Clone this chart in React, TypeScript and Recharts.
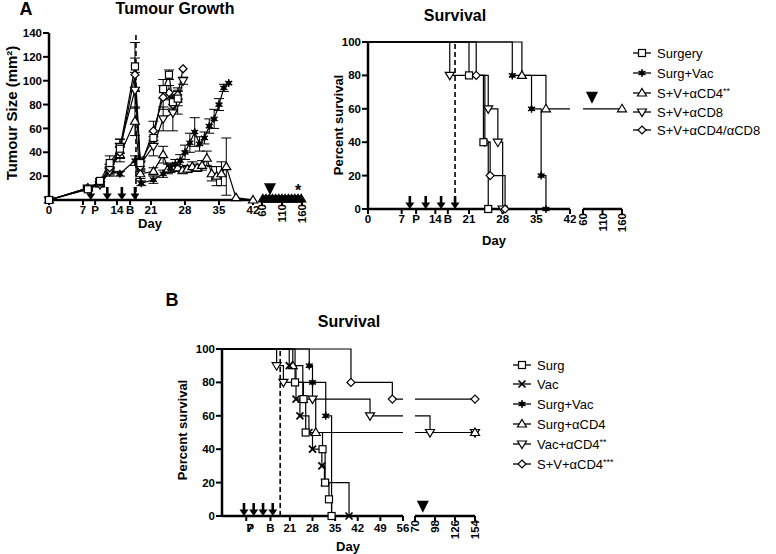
import React from "react";
import {
  ErrorBar,
  Line,
  LineChart,
  ReferenceDot,
  ReferenceLine,
  XAxis,
  YAxis,
} from "recharts";

// Panel A (left): tumour growth, mean ± SEM
const tgSurgDay = [0, 8, 10.5, 12.5, 14.6, 17.7, 18.8, 21.5, 23.5, 24.7, 25.5, 26.5];
const tgSurgSize = [0, 9, 16, 31, 43, 112, 31, 52, 93, 105, 82, 85];
const tgSurgErr = [0, 1, 2, 6, 8, 20, 5, 5, 8, 4, 5, 6];

const tgVacDay = [0, 8, 10.5, 12.5, 14.6, 17.7, 19, 21.5, 23.5, 25, 26, 27, 28, 29, 30, 31, 32, 33, 34, 35, 36, 37];
const tgVacSize = [0, 9, 13, 24, 22, 33, 14, 17, 22, 27, 30, 33, 40, 48, 57, 47, 52, 62, 68, 80, 94, 98];
const tgVacErr = [0, 1, 2, 3, 2, 4, 2, 3, 3, 4, 4, 5, 6, 8, 12, 6, 5, 6, 8, 5, 3, 0];

const tgCd4Day = [0, 8, 10.5, 12.5, 14.6, 17.7, 18.8, 21.5, 23.5, 24.5, 25.5, 26.5, 27.5, 28.5, 29.5, 30.5, 31.5, 32.5, 33.5, 34.5, 35.5, 36.5, 38.5, 42];
const tgCd4Size = [0, 10, 14, 26, 38, 66, 22, 24, 38, 26, 27, 27, 25, 26, 28, 27, 29, 35, 22, 20, 22, 28, 2, 0];
const tgCd4Err = [0, 1, 2, 4, 6, 12, 4, 3, 7, 4, 3, 3, 3, 3, 4, 3, 4, 6, 6, 8, 10, 24, 0, 0];
const tgCd4LateDay = [62, 70, 78, 86, 94, 102, 110, 118, 126, 134, 142, 150, 158];
const tgCd4LateSize = [1, 1, 1, 1, 1, 1, 1, 1, 1, 1, 1, 1, 1];

const tgCd8Day = [0, 8, 10.5, 12.5, 14.6, 17.7, 18.8, 21.5, 23.5, 25.5, 26.5, 27.6];
const tgCd8Size = [0, 10, 13, 24, 45, 92, 30, 45, 68, 73, 82, 100];
const tgCd8Err = [0, 1, 2, 4, 6, 15, 5, 8, 10, 15, 10, 3];

const tgDualDay = [0, 8, 10.5, 12.5, 14.6, 17.7, 18.8, 21.5, 23.5, 24.7, 25.5, 26.5, 27.6];
const tgDualSize = [0, 10, 15, 27, 40, 105, 28, 58, 86, 90, 80, 88, 110];
const tgDualErr = [0, 1, 2, 3, 5, 14, 4, 8, 10, 6, 6, 6, 0];

const tgTicks = [0, 7, 9.5, 14, 16.7, 21, 28, 35, 42];
const tgArrows = [8.6, 12, 15, 17.7];

// Panel A (right): survival
const sASurgDay = [0, 21, 24, 25];
const sASurgPct = [100, 80, 40, 0];
const sAVacDay = [0, 30, 34, 36, 37];
const sAVacPct = [100, 80, 60, 20, 0];
const sACd4Day = [0, 32, 37, 42];
const sACd4Pct = [100, 80, 60, 60];
const sACd4LateDay = [60, 160];
const sACd4LatePct = [60, 60];
const sACd8Day = [0, 17, 25, 27, 28];
const sACd8Pct = [100, 80, 60, 40, 0];
const sADualDay = [0, 22.5, 24.3, 25.4, 28.5];
const sADualPct = [100, 80, 40, 20, 0];
const sATicks = [0, 7, 10, 14, 16.6, 21, 28, 35, 42];
const sAArrows = [8.7, 12, 15.2, 18.1];

// Panel B: survival
const sBSurgDay = [0, 22.6, 25.2, 25.9, 31.1, 31.9, 33.1, 33.9];
const sBSurgPct = [100, 80, 70, 50, 40, 20, 10, 0];
const sBVacDay = [0, 20.8, 22.9, 24.1, 26.9, 28, 30.9, 31.7, 39.3];
const sBVacPct = [100, 90, 70, 60, 50, 40, 30, 20, 0];
const sBSvDay = [0, 27, 28, 32.1, 33.9];
const sBSvPct = [100, 90, 80, 60, 0];
const sBSCd4Day = [0, 21.9, 25, 29, 56];
const sBSCd4Pct = [100, 90, 70, 50, 50];
const sBSCd4LateDay = [70, 154];
const sBSCd4LatePct = [50, 50];
const sBVCd4Day = [0, 16.9, 19, 28, 45.8, 56];
const sBVCd4Pct = [100, 90, 80, 70, 60, 60];
const sBVCd4LateDay = [70, 91, 154];
const sBVCd4LatePct = [60, 50, 50];
const sBSvCd4Day = [0, 39.9, 52.7, 56];
const sBSvCd4Pct = [100, 80, 70, 70];
const sBSvCd4LateDay = [70, 154];
const sBSvCd4LatePct = [70, 70];
const sBTicks = [7.5, 15, 21, 28, 35, 42, 49, 56];
const sBArrows = [6.8, 9.8, 12.7, 15.7];

const legendA = ["Surgery", "Surg+Vac", "S+V+αCD4**", "S+V+αCD8", "S+V+αCD4/αCD8"];
const legendB = ["Surg", "Vac", "Surg+Vac", "Surg+αCD4", "Vac+αCD4**", "S+V+αCD4***"];

const FONT = '"Liberation Sans", Arial, Helvetica, sans-serif';
const tickStyle = { fontSize: 11.5, fontWeight: 700, fill: "#000", fontFamily: FONT };
const axisLine = { stroke: "#000", strokeWidth: 2.5 };
const tickLine = { stroke: "#000", strokeWidth: 2 };

type Shape = "square" | "star" | "triUp" | "triDown" | "diamond" | "cross";

const pts = (xs: number[], ys: number[], es?: number[]) =>
  xs.map((x, i) => ({ x, y: ys[i], e: es ? es[i] : 0 }));

function Marker({ shape, cx, cy, fill = "#fff" }: { shape: Shape; cx: number; cy: number; fill?: string }) {
  const st = { fill, stroke: "#000", strokeWidth: 1.2 };
  const s = 4;
  if (shape === "square")
    return <rect x={cx - 3.5} y={cy - 3.5} width={7} height={7} {...st} />;
  if (shape === "triUp")
    return <polygon points={`${cx},${cy - s - 0.5} ${cx + s + 0.5},${cy + s - 1} ${cx - s - 0.5},${cy + s - 1}`} {...st} />;
  if (shape === "triDown")
    return <polygon points={`${cx - s - 0.5},${cy - s + 1} ${cx + s + 0.5},${cy - s + 1} ${cx},${cy + s + 0.5}`} {...st} />;
  if (shape === "diamond")
    return <polygon points={`${cx},${cy - s} ${cx + s},${cy} ${cx},${cy + s} ${cx - s},${cy}`} {...st} />;
  if (shape === "cross")
    return (
      <g stroke="#000" strokeWidth={1.7}>
        <line x1={cx - 3.5} y1={cy - 3.5} x2={cx + 3.5} y2={cy + 3.5} />
        <line x1={cx - 3.5} y1={cy + 3.5} x2={cx + 3.5} y2={cy - 3.5} />
      </g>
    );
  return (
    <g stroke="#000" strokeWidth={1.4}>
      <line x1={cx} y1={cy - 4} x2={cx} y2={cy + 4} />
      <line x1={cx - 3.5} y1={cy - 2} x2={cx + 3.5} y2={cy + 2} />
      <line x1={cx - 3.5} y1={cy + 2} x2={cx + 3.5} y2={cy - 2} />
      <circle cx={cx} cy={cy} r={1.8} fill="#000" />
    </g>
  );
}

function dots(id: string, shape: Shape, keep: (i: number, x: number) => boolean, fill?: string) {
  return (p: any) => {
    const k = `${id}-${p.index}`;
    if (p.cx == null || p.cy == null || !keep(p.index, p.payload?.x)) return <g key={k} />;
    return (
      <g key={k}>
        <Marker shape={shape} cx={p.cx} cy={p.cy} fill={fill} />
      </g>
    );
  };
}

const all = () => true;
const before = (edge: number) => (i: number, x: number) => i > 0 && x < edge;
const notFirst = (i: number) => i > 0;

const arrowShape = (p: any) => (
  <g>
    <rect x={p.cx - 1.3} y={p.cy - 13} width={2.6} height={8} fill="#000" />
    <polygon points={`${p.cx - 4.5},${p.cy - 6.5} ${p.cx + 4.5},${p.cy - 6.5} ${p.cx},${p.cy}`} fill="#000" />
  </g>
);
const bigTri = (p: any) => (
  <polygon points={`${p.cx - 6},${p.cy - 12} ${p.cx + 6},${p.cy - 12} ${p.cx},${p.cy}`} fill="#000" />
);

function RotTick(props: any) {
  const { x, y, payload } = props;
  return (
    <text transform={`translate(${x + 4},${y - 2}) rotate(-90)`} textAnchor="end" style={tickStyle}>
      {payload.value}
    </text>
  );
}

function BTick(props: any) {
  const { x, y, payload } = props;
  const v = payload.value;
  if (v === 7.5)
    return (
      <text x={x + 1} y={y + 10} textAnchor="middle" style={{ ...tickStyle, letterSpacing: -6.5 }}>
        7P
      </text>
    );
  const lab = v === 15 ? "B" : String(v);
  return (
    <text x={x} y={y + 10} textAnchor="middle" style={tickStyle}>{lab}</text>
  );
}

function Txt(props: { x: number; y: number; size: number; bold?: boolean; rot?: boolean; children: React.ReactNode }) {
  return (
    <div
      style={{
        position: "absolute",
        left: props.x,
        top: props.y,
        transform: `translate(-50%, -50%)${props.rot ? " rotate(-90deg)" : ""}`,
        fontSize: props.size,
        fontWeight: props.bold ? 700 : 400,
        whiteSpace: "nowrap",
        lineHeight: 1,
      }}
    >
      {props.children}
    </div>
  );
}

function Legend({ items, shapes, x, ys }: { items: string[]; shapes: Shape[]; x: number; ys: number[] }) {
  return (
    <>
      {items.map((t, i) => {
        const stars = t.match(/\*+$/)?.[0] ?? "";
        const base = stars ? t.slice(0, -stars.length) : t;
        return (
          <div key={t} style={{ position: "absolute", left: x - 9, top: ys[i] - 8, height: 16, display: "flex", alignItems: "center", fontSize: 13 }}>
            <svg width={18} height={12} style={{ marginRight: 6 }}>
              <line x1={0} y1={6} x2={18} y2={6} stroke="#000" strokeWidth={1.3} />
              <Marker shape={shapes[i]} cx={9} cy={6} />
            </svg>
            <span>
              {base}
              {stars && <span style={{ fontSize: 9, position: "relative", top: -4 }}>{stars}</span>}
            </span>
          </div>
        );
      })}
    </>
  );
}

const pos = (left: number, top: number): React.CSSProperties => ({ position: "absolute", left, top });

const step = (data: any[], id: string, shape: Shape, keep: (i: number, x: number) => boolean) => (
  <Line
    key={id}
    data={data}
    dataKey="y"
    type="stepAfter"
    stroke="#000"
    strokeWidth={1.2}
    dot={dots(id, shape, keep)}
    activeDot={false}
    isAnimationActive={false}
  />
);

const growth = (data: any[], id: string, shape: Shape) => (
  <Line
    key={id}
    data={data}
    dataKey="y"
    type="linear"
    stroke="#000"
    strokeWidth={1.2}
    dot={dots(id, shape, all)}
    activeDot={false}
    isAnimationActive={false}
  >
    <ErrorBar dataKey="e" width={5} stroke="#000" strokeWidth={1} direction="y" />
  </Line>
);

export default function App() {
  const tgFmt = (v: number) => (v === 9.5 ? "P" : v === 16.7 ? "B" : String(v));
  const saFmt = (v: number) => (v === 10 ? "P" : v === 16.6 ? "B" : String(v));

  return (
    <div style={{ position: "absolute", left: 0, top: 0, width: 776, height: 554, background: "#fff", fontFamily: FONT, color: "#000", overflow: "hidden" }}>
      {/* A: tumour growth */}
      <div style={pos(0, 0)}>
        <LineChart width={262} height={240} margin={{ top: 33, right: 9, left: 9, bottom: 10 }}>
          <XAxis type="number" dataKey="x" domain={[0, 42]} ticks={tgTicks} interval={0} tickFormatter={tgFmt}
            tick={tickStyle} axisLine={axisLine} tickLine={tickLine} tickSize={5} tickMargin={1} height={30} />
          <YAxis type="number" domain={[0, 140]} ticks={[20, 40, 60, 80, 100, 120, 140]} interval={0}
            tick={tickStyle} axisLine={axisLine} tickLine={tickLine} tickSize={6} tickMargin={1} width={40} />
          <ReferenceLine x={17.9} stroke="#000" strokeWidth={1.6} strokeDasharray="5 3" />
          {growth(pts(tgCd4Day, tgCd4Size, tgCd4Err), "tg-cd4", "triUp")}
          {growth(pts(tgVacDay, tgVacSize, tgVacErr), "tg-vac", "star")}
          {growth(pts(tgCd8Day, tgCd8Size, tgCd8Err), "tg-cd8", "triDown")}
          {growth(pts(tgDualDay, tgDualSize, tgDualErr), "tg-dual", "diamond")}
          {growth(pts(tgSurgDay, tgSurgSize, tgSurgErr), "tg-surg", "square")}
          {tgArrows.map((d) => (
            <ReferenceDot key={`ta${d}`} x={d} y={0} shape={arrowShape} ifOverflow="visible" />
          ))}
        </LineChart>
      </div>
      <div style={pos(255, 0)}>
        <LineChart width={55} height={240} margin={{ top: 33, right: 8, left: 7, bottom: 10 }}>
          <XAxis type="number" dataKey="x" domain={[60, 160]} ticks={[60, 110, 160]} interval={0}
            tick={<RotTick />} axisLine={axisLine} tickLine={tickLine} tickSize={5} tickMargin={1} height={30} />
          <YAxis hide type="number" domain={[0, 140]} />
          <Line data={pts(tgCd4LateDay, tgCd4LateSize)} dataKey="y" type="linear" stroke="#000" strokeWidth={7}
            dot={dots("tg-late", "triUp", all, "#000")} activeDot={false} isAnimationActive={false} />
          <ReferenceDot x={80} y={4} shape={bigTri} ifOverflow="visible" />
        </LineChart>
      </div>

      {/* A: survival */}
      <div style={pos(320, 0)}>
        <LineChart width={258} height={250} margin={{ top: 42, right: 8, left: 8, bottom: 11 }}>
          <XAxis type="number" dataKey="x" domain={[0, 42]} ticks={sATicks} interval={0} tickFormatter={saFmt}
            tick={tickStyle} axisLine={axisLine} tickLine={tickLine} tickSize={5} tickMargin={1} height={30} />
          <YAxis type="number" domain={[0, 100]} ticks={[0, 20, 40, 60, 80, 100]} interval={0}
            tick={tickStyle} axisLine={axisLine} tickLine={tickLine} tickSize={6} tickMargin={1} width={40} />
          <ReferenceLine x={18.1} stroke="#000" strokeWidth={1.6} strokeDasharray="5 3" />
          {step(pts(sACd4Day, sACd4Pct), "sa-cd4", "triUp", before(42))}
          {step(pts(sAVacDay, sAVacPct), "sa-vac", "star", before(42))}
          {step(pts(sACd8Day, sACd8Pct), "sa-cd8", "triDown", before(42))}
          {step(pts(sADualDay, sADualPct), "sa-dual", "diamond", before(42))}
          {step(pts(sASurgDay, sASurgPct), "sa-surg", "square", before(42))}
          {sAArrows.map((d) => (
            <ReferenceDot key={`sa${d}`} x={d} y={0} shape={arrowShape} ifOverflow="visible" />
          ))}
        </LineChart>
      </div>
      <div style={pos(575, 0)}>
        <LineChart width={55} height={250} margin={{ top: 42, right: 8, left: 8, bottom: 11 }}>
          <XAxis type="number" dataKey="x" domain={[60, 160]} ticks={[60, 110, 160]} interval={0}
            tick={<RotTick />} axisLine={axisLine} tickLine={tickLine} tickSize={5} tickMargin={1} height={30} />
          <YAxis hide type="number" domain={[0, 100]} />
          {step(pts(sACd4LateDay, sACd4LatePct), "sa-cd4-late", "triUp", notFirst)}
          <ReferenceDot x={83} y={63} shape={bigTri} ifOverflow="visible" />
        </LineChart>
      </div>

      {/* B: survival */}
      <div style={pos(170, 300)}>
        <LineChart width={240} height={250} margin={{ top: 49, right: 7, left: 12, bottom: 4 }}>
          <XAxis type="number" dataKey="x" domain={[0, 56]} ticks={sBTicks} interval={0}
            tick={<BTick />} axisLine={axisLine} tickLine={tickLine} tickSize={5} tickMargin={1} height={30} />
          <YAxis type="number" domain={[0, 100]} ticks={[0, 20, 40, 60, 80, 100]} interval={0}
            tick={tickStyle} axisLine={axisLine} tickLine={tickLine} tickSize={6} tickMargin={1} width={40} />
          <ReferenceLine x={18} stroke="#000" strokeWidth={1.6} strokeDasharray="5 3" />
          {step(pts(sBSvCd4Day, sBSvCd4Pct), "sb-svcd4", "diamond", before(56))}
          {step(pts(sBVCd4Day, sBVCd4Pct), "sb-vcd4", "triDown", before(56))}
          {step(pts(sBSCd4Day, sBSCd4Pct), "sb-scd4", "triUp", before(56))}
          {step(pts(sBSvDay, sBSvPct), "sb-sv", "star", before(56))}
          {step(pts(sBVacDay, sBVacPct), "sb-vac", "cross", before(56))}
          {step(pts(sBSurgDay, sBSurgPct), "sb-surg", "square", before(56))}
          {sBArrows.map((d) => (
            <ReferenceDot key={`sb${d}`} x={d} y={0} shape={arrowShape} ifOverflow="visible" />
          ))}
        </LineChart>
      </div>
      <div style={pos(408, 300)}>
        <LineChart width={74} height={250} margin={{ top: 49, right: 7, left: 7, bottom: 4 }}>
          <XAxis type="number" dataKey="x" domain={[70, 154]} ticks={[70, 98, 126, 154]} interval={0}
            tick={<RotTick />} axisLine={axisLine} tickLine={tickLine} tickSize={5} tickMargin={1} height={30} />
          <YAxis hide type="number" domain={[0, 100]} />
          {step(pts(sBSvCd4LateDay, sBSvCd4LatePct), "sb-svcd4-late", "diamond", notFirst)}
          {step(pts(sBVCd4LateDay, sBVCd4LatePct), "sb-vcd4-late", "triDown", notFirst)}
          {step(pts(sBSCd4LateDay, sBSCd4LatePct), "sb-scd4-late", "triUp", notFirst)}
          <ReferenceDot x={81} y={2} shape={bigTri} ifOverflow="visible" />
        </LineChart>
      </div>

      {/* text */}
      <Txt x={26} y={9} size={18} bold>A</Txt>
      <Txt x={175} y={9} size={16} bold>Tumour Growth</Txt>
      <Txt x={11} y={113} size={15} bold rot>Tumour Size (mm²)</Txt>
      <Txt x={150} y={223} size={13} bold>Day</Txt>
      <Txt x={298} y={191} size={16} bold>*</Txt>

      <Txt x={455} y={16} size={16} bold>Survival</Txt>
      <Txt x={338} y={125} size={13} bold rot>Percent survival</Txt>
      <Txt x={494} y={240} size={13} bold>Day</Txt>
      <Legend items={legendA} shapes={["square", "star", "triUp", "triDown", "diamond"]} x={642} ys={[53, 73, 93, 112, 130]} />

      <Txt x={172} y={300} size={18} bold>B</Txt>
      <Txt x={349} y={322} size={16} bold>Survival</Txt>
      <Txt x={182} y={430} size={13} bold rot>Percent survival</Txt>
      <Txt x={348} y={546} size={13} bold>Day</Txt>
      <Legend items={legendB} shapes={["square", "cross", "star", "triUp", "triDown", "diamond"]} x={522} ys={[365, 384, 404, 424, 444, 464]} />
    </div>
  );
}
